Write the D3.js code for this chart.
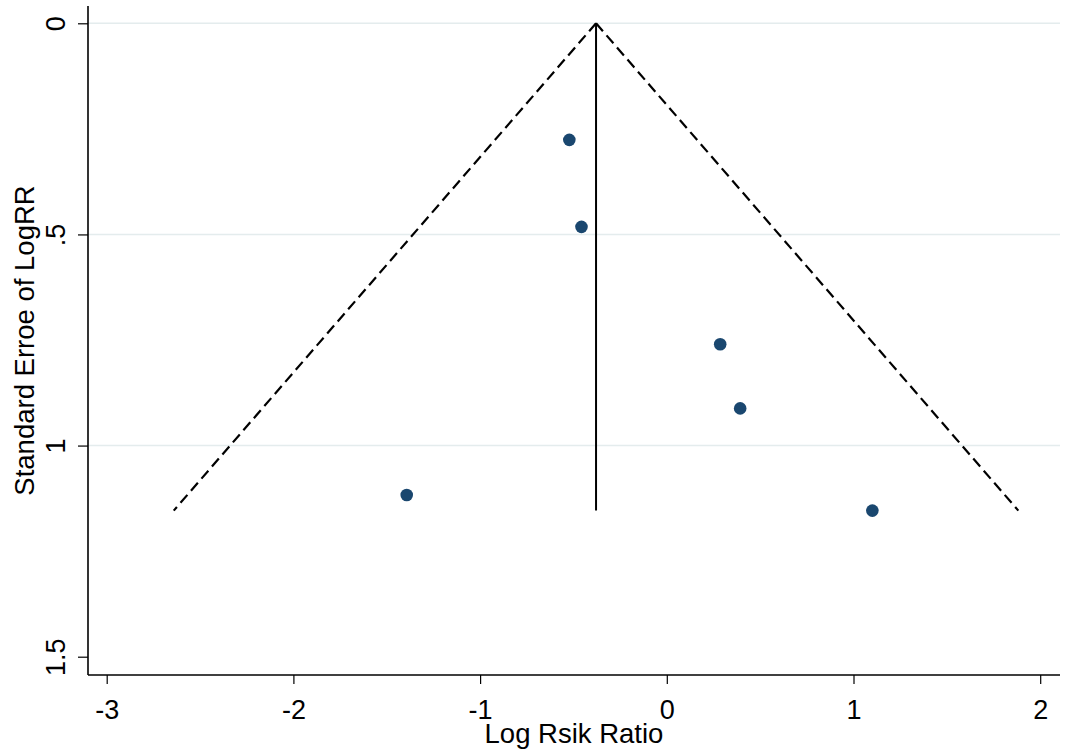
<!DOCTYPE html>
<html><head><meta charset="utf-8">
<script src="https://cdn.jsdelivr.net/npm/d3@7"></script>
<style>body{margin:0;background:#fff}svg{display:block}text{font-family:Arial,"Liberation Sans",sans-serif;fill:#000}</style>
</head><body>
<svg id="c" width="1065" height="756"></svg>
<script>
const logRR = [-0.522, -0.457, 0.286, 0.393, -1.393, 1.101];
const seLogRR = [0.276, 0.482, 0.760, 0.912, 1.117, 1.154];
const pooled = -0.379;
const xTicks = [-3, -2, -1, 0, 1, 2];
const yTicks = [0, 0.5, 1, 1.5];
const yTickLabels = ["0", ".5", "1", "1.5"];
const gridTicks = [0, 0.5, 1];
const xTitle = "Log Rsik Ratio";
const yTitle = "Standard Erroe of LogRR";

(function () {
const svg = d3.select("#c");
const x = d3.scaleLinear().domain([-3, 2]).range([106.7, 1040.2]);
const y = d3.scaleLinear().domain([0, 1.5]).range([23.3, 656.7]);
const pLeft = 88, pBottom = 675, pTop = 6, pRight = 1060;
const FONT = "Arial, 'Liberation Sans', sans-serif";

// grid
svg.append("g").selectAll("line").data(gridTicks).join("line")
  .attr("x1", pLeft).attr("x2", pRight).attr("y1", d => y(d)).attr("y2", d => y(d))
  .attr("stroke", "#e4eced").attr("stroke-width", 1.5);

// funnel
const maxSE = d3.max(seLogRR);
const funnel = d3.line().x(d => x(d[0])).y(d => y(d[1]));
[-1, 1].forEach(s => {
  svg.append("path").attr("d", funnel([[pooled, 0], [pooled + s * 1.96 * maxSE, maxSE]]))
    .attr("fill", "none").attr("stroke", "#000").attr("stroke-width", 2.2).attr("stroke-dasharray", "10.5,5.5");
});
svg.append("path").attr("d", funnel([[pooled, 0], [pooled, maxSE]]))
  .attr("fill", "none").attr("stroke", "#000").attr("stroke-width", 2);

// points
svg.append("g").selectAll("circle").data(logRR.map((v, i) => [v, seLogRR[i]])).join("circle")
  .attr("cx", d => x(d[0])).attr("cy", d => y(d[1])).attr("r", 6.3).attr("fill", "#1a476f");

// axes lines
svg.append("line").attr("x1", pLeft).attr("x2", pLeft).attr("y1", pTop).attr("y2", pBottom).attr("stroke", "#000").attr("stroke-width", 1.6);
svg.append("line").attr("x1", pLeft).attr("x2", pRight).attr("y1", pBottom).attr("y2", pBottom).attr("stroke", "#000").attr("stroke-width", 1.6);

const xAxis = d3.axisBottom(x).tickValues(xTicks).tickSize(9).tickFormat(d => String(d));
const gx = svg.append("g").attr("transform", `translate(0,${pBottom})`).call(xAxis);
gx.select(".domain").remove();
gx.selectAll("line").attr("stroke", "#000").attr("stroke-width", 1.2);
gx.selectAll("text").attr("font-size", 27).attr("font-family", FONT).attr("fill", "#000")
  .attr("y", 44).attr("dy", null);

const yAxis = d3.axisLeft(y).tickValues(yTicks).tickSize(10).tickFormat((d, i) => yTickLabels[i]);
const gy = svg.append("g").attr("transform", `translate(${pLeft},0)`).call(yAxis);
gy.select(".domain").remove();
gy.selectAll("line").attr("stroke", "#000").attr("stroke-width", 1.2);
gy.selectAll("text").attr("font-size", 27).attr("font-family", FONT).attr("fill", "#000")
  .attr("x", null).attr("y", null).attr("dy", null).attr("text-anchor", "middle")
  .attr("transform", "translate(-23,0) rotate(-90)");

// titles
svg.append("text").attr("x", (pLeft + pRight) / 2).attr("y", 743).attr("text-anchor", "middle")
  .attr("font-size", 27.5).text(xTitle);
svg.append("text").attr("transform", `translate(34,${(pTop + pBottom) / 2}) rotate(-90)`).attr("text-anchor", "middle")
  .attr("font-size", 27.5).text(yTitle);
})();
</script>
</body></html>
